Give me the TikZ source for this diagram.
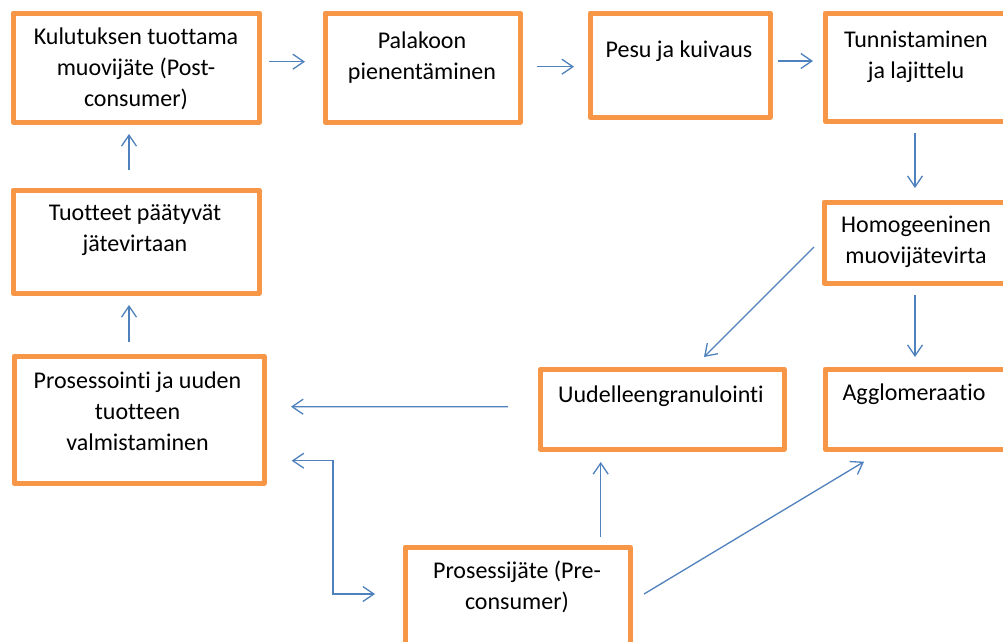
\documentclass[tikz,border=0pt]{standalone}
\usepackage{fontspec}
\setmainfont{Carlito}[Ligatures=NoCommon]
\usetikzlibrary{arrows.meta,calc}
\definecolor{boxorange}{HTML}{F79646}
\definecolor{arrblue}{HTML}{4F81BD}
\begin{document}
\begin{tikzpicture}[x=1pt,y=-1pt,
  box/.style={draw=boxorange,line width=5pt,inner sep=0pt,outer sep=0pt,line join=round},
  txt/.style={align=center,font=\fontsize{24}{31}\selectfont,inner sep=0pt,text=black},
  arr/.style={draw=arrblue,line width=1.3pt,-{Straight Barb[length=11pt,width=15pt]}},
  darr/.style={draw=arrblue,line width=1.3pt,{Straight Barb[length=11pt,width=15pt]}-{Straight Barb[length=11pt,width=15pt]}}]
\clip (0,0) rectangle (1003,641);
\fill[white] (0,0) rectangle (1003,641);
% boxes
\node[box,minimum width=246.5pt,minimum height=109pt] (b1) at (136.25,67.5) {};
\node[box,minimum width=195pt,minimum height=109pt] (b2) at (422.5,67.5) {};
\node[box,minimum width=180pt,minimum height=104pt] (b3) at (680,65) {};
\node[box,minimum width=182pt,minimum height=108pt] (b4) at (916,67) {};
\node[box,minimum width=184pt,minimum height=81pt] (b6) at (916,242.5) {};
\node[box,minimum width=182pt,minimum height=80pt] (b9) at (916,409) {};
\node[box,minimum width=244pt,minimum height=79.5pt] (b8) at (662,409.25) {};
\node[box,minimum width=246pt,minimum height=103pt] (b5) at (136,241.5) {};
\node[box,minimum width=250pt,minimum height=127pt] (b7) at (139,419.5) {};
\node[box,minimum width=225pt,minimum height=103pt] (b10) at (517.5,598.5) {};
% texts
\node[txt] (t1) at (136,69) {Kulutuksen tuottama\\muovijäte (Post-\\consumer)};
\node[txt] (t2) at (422,58) {Palakoon\\pienentäminen};
\node[txt] (t3) at (679,51) {Pesu ja kuivaus};
\node[txt] (t4) at (916,57) {Tunnistaminen\\ja lajittelu};
\node[txt] (t6) at (916,242) {Homogeeninen\\muovijätevirta};
\node[txt] (t9) at (914,394) {Agglomeraatio};
\node[txt] (t8) at (661,396) {Uudelleengranulointi};
\node[txt] (t7) at (137.5,411) {Prosessointi ja uuden\\tuotteen\\valmistaminen};
\node[txt] (t5) at (135,230) {Tuotteet päätyvät\\jätevirtaan};
\node[txt] (t10) at (517,587) {Prosessijäte (Pre-\\consumer)};
% arrows
\draw[arr] ($(b1.east)+(9.5,-5.8)$) -- ($(b2.west)+(-20,-5.8)$);
\draw[arr] ($(b2.east)+(17,-0.8)$) -- ($(b3.west)+(-16,1.7)$);
\draw[arr] ($(b3.east)+(8,-4)$) -- ($(b4.west)+(-12,-6)$);
\draw[arr] ($(b4.south)+(-1,12)$) -- ($(b6.north)+(-1,-14)$);
\draw[arr] ($(b6.south)+(-1,12)$) -- ($(b9.north)+(-1,-12)$);
\draw[arr] ($(b6.west)+(-10,4.5)$) -- ($(b8.north)+(42,-12.5)$);
\draw[arr] ($(b8.west)+(-32,-2.5)$) -- ($(b7.east)+(27,-12.8)$);
\draw[arr] ($(b10.north)+(83.2,-10)$) -- ($(b8.south)+(-61.3,13)$);
\draw[arr] ($(b10.east)+(14,-4.5)$) -- ($(b9.south)+(-52,12.7)$);
\draw[darr] ($(b7.east)+(27.7,41.2)$) -- ++(41.3,0) |- ($(b10.west)+(-30,-4.5)$);
\draw[arr] ($(b7.north)+(-10,-14)$) -- ($(b5.south)+(-7,12)$);
\draw[arr] ($(b5.north)+(-7,-20)$) -- ($(b1.south)+(-7.25,12)$);
\end{tikzpicture}
\end{document}
